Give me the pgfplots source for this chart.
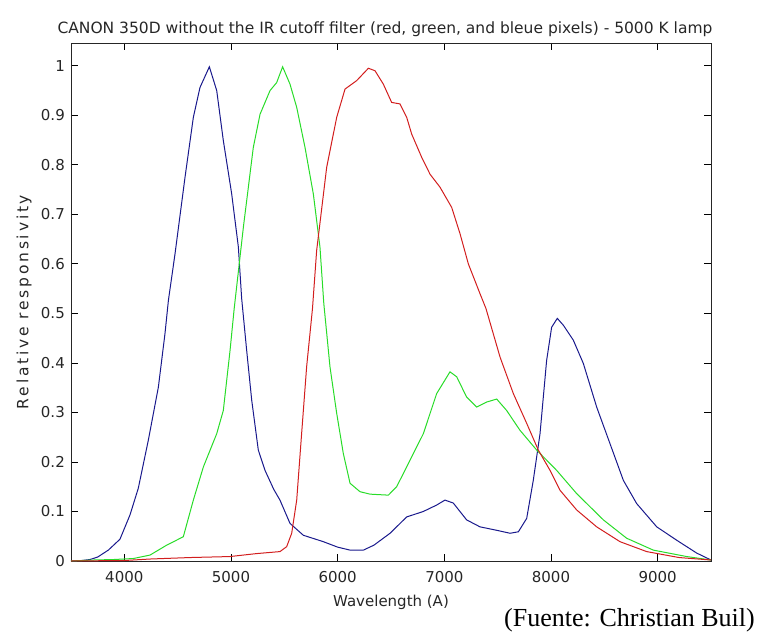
\documentclass[border=0pt]{standalone}
\usepackage{fontspec}
\setmainfont{DejaVu Sans}
\newfontfamily\srcfont{Liberation Serif}
\newfontfamily\ylabfont[LetterSpace=18]{DejaVu Sans}
\usepackage{pgfplots}
\pgfplotsset{compat=1.18}

\definecolor{cblue}{RGB}{25,25,140}
\definecolor{cgreen}{RGB}{40,220,40}
\definecolor{cred}{RGB}{210,30,30}

\pgfplotstableread{
l v
3500 0.000
3600 0.001
3678 0.003
3750 0.008
3850 0.022
3959 0.044
4053 0.093
4131 0.147
4225 0.244
4319 0.351
4381 0.459
4413 0.526
4475 0.620
4569 0.775
4647 0.896
4709 0.956
4797 0.998
4866 0.950
4928 0.849
5006 0.742
5069 0.634
5100 0.530
5147 0.425
5194 0.325
5256 0.224
5319 0.183
5400 0.145
5459 0.123
5553 0.076
5678 0.052
5866 0.039
6000 0.028
6116 0.022
6241 0.022
6340 0.032
6491 0.056
6647 0.089
6803 0.100
6928 0.113
7006 0.123
7084 0.117
7209 0.083
7334 0.069
7491 0.062
7616 0.056
7694 0.059
7772 0.086
7834 0.163
7897 0.257
7959 0.405
8006 0.472
8059 0.490
8116 0.476
8209 0.446
8303 0.399
8428 0.311
8553 0.237
8678 0.163
8803 0.116
8991 0.069
9178 0.042
9366 0.016
9500 0.002
}\blue

\pgfplotstableread{
l v
3500 0.000
3709 0.002
3900 0.003
4084 0.005
4241 0.012
4397 0.032
4553 0.049
4647 0.123
4741 0.190
4866 0.257
4928 0.304
4991 0.425
5030 0.510
5116 0.674
5209 0.835
5272 0.902
5366 0.950
5428 0.966
5484 0.998
5553 0.963
5616 0.916
5694 0.835
5772 0.741
5834 0.634
5870 0.520
5928 0.392
5991 0.298
6053 0.217
6116 0.157
6209 0.140
6303 0.135
6475 0.133
6553 0.150
6647 0.190
6803 0.257
6928 0.338
7053 0.382
7116 0.372
7209 0.331
7303 0.311
7397 0.321
7491 0.327
7584 0.304
7709 0.264
7866 0.224
8053 0.183
8241 0.136
8491 0.083
8709 0.046
8959 0.022
9272 0.009
9500 0.002
}\green

\pgfplotstableread{
l v
3500 0.000
4000 0.001
4241 0.004
4616 0.007
4991 0.009
5241 0.015
5459 0.019
5522 0.029
5569 0.056
5616 0.123
5662 0.257
5709 0.392
5764 0.510
5803 0.627
5897 0.795
5991 0.896
6069 0.953
6178 0.970
6288 0.995
6350 0.990
6428 0.963
6506 0.926
6584 0.923
6647 0.896
6694 0.862
6788 0.815
6866 0.781
6959 0.755
7069 0.714
7147 0.661
7225 0.600
7334 0.540
7390 0.510
7522 0.412
7647 0.338
7772 0.278
7881 0.224
7991 0.183
8084 0.143
8241 0.103
8428 0.069
8647 0.039
8897 0.019
9200 0.007
9500 0.002
}\red

\begin{document}
\begin{tikzpicture}
\path (-71pt,-70pt) rectangle (686pt,561pt);
\begin{axis}[
    at={(0,0)}, anchor=south west,
    scale only axis,
    width=640pt, height=518pt,
    xmin=3500, xmax=9500,
    ymin=0, ymax=1.046,
    xtick={4000,5000,6000,7000,8000,9000},
    ytick={0,0.1,0.2,0.3,0.4,0.5,0.6,0.7,0.8,0.9,1},
    yticklabels={0,0.1,0.2,0.3,0.4,0.5,0.6,0.7,0.8,0.9,1},
    scaled ticks=false,
    /pgf/number format/1000 sep={},
    /pgf/number format/assume math mode=true,
    tick align=inside,
    major tick length=7pt,
    tick style={black, line width=0.8pt},
    axis line style={line width=0.9pt, black!85},
    ticklabel style={font=\fontsize{15}{18}\selectfont, text=black!85},
    xticklabel style={inner sep=0pt, yshift=-10pt},
    yticklabel style={inner sep=0pt, xshift=-6pt},
    title={CANON 350D without the IR cutoff filter (red, green, and bleue pixels) - 5000 K lamp},
    title style={at={(axis description cs:0.5,1)}, anchor=base, yshift=3pt, xshift=-6pt,
                 font=\fontsize{15.5}{18}\selectfont, text=black!85},
    xlabel={Wavelength (A)},
    xlabel style={at={(axis description cs:0.5,0)}, anchor=base, yshift=-45pt,
                  font=\fontsize{15}{18}\selectfont, text=black!85},
    ylabel={Relative responsivity},
    ylabel style={at={(axis description cs:0,0.5)}, anchor=center, yshift=47pt,
                  font=\ylabfont\fontsize{15.5}{18}\selectfont, text=black!85},
    clip=true,
]
\addplot[cblue, line width=1pt] table[x=l, y=v] {\blue};
\addplot[cgreen, line width=1pt] table[x=l, y=v] {\green};
\addplot[cred, line width=1pt] table[x=l, y=v] {\red};
\end{axis}
\node[anchor=base east, inner sep=0pt, font=\srcfont\fontsize{26}{30}\selectfont]
  at (684pt,-65pt) {(Fuente: Christian Buil)};
\end{tikzpicture}
\end{document}
